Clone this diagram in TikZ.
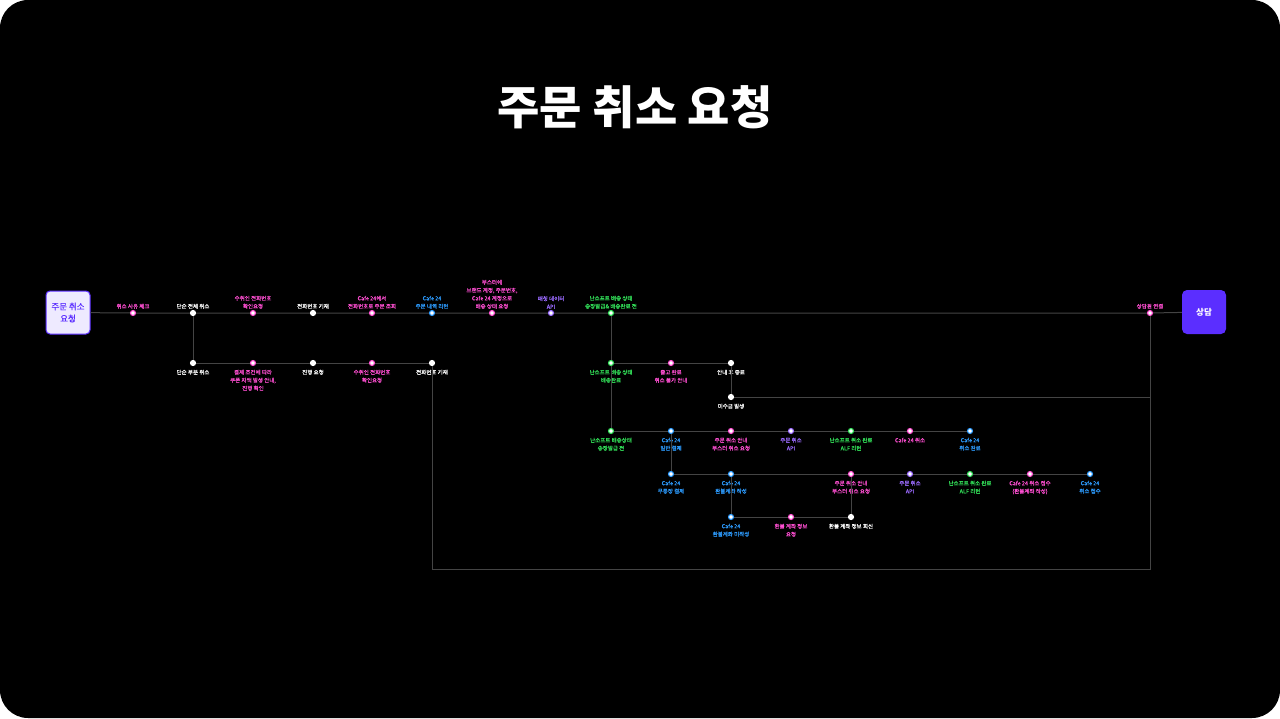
\documentclass[tikz,border=0pt]{standalone}
\usepackage{fontspec}
\usepackage{xcolor}
\usepackage{tikz}
\usetikzlibrary{positioning}
\newfontfamily\krfont{Noto Sans CJK KR}
\newfontfamily\krlbl[FakeBold=0.5]{Noto Sans CJK KR}
\definecolor{pinkc}{HTML}{FF4FD2}
\definecolor{bluec}{HTML}{2D9CFF}
\definecolor{purplec}{HTML}{9B6BFF}
\definecolor{greenc}{HTML}{33E35A}
\definecolor{linec}{HTML}{444444}
\definecolor{startfill}{HTML}{EEEAFF}
\definecolor{consultc}{HTML}{5B2EFF}
\tikzset{
    dot/.style={circle, draw, fill=white, line width=1.1pt, inner sep=0pt, minimum size=5pt, label distance=1pt},
    pdot/.style={dot, draw=pinkc},
    bdot/.style={dot, draw=bluec},
    vdot/.style={dot, draw=purplec},
    gdot/.style={dot, draw=greenc},
    wdot/.style={dot, draw=white},
    lbl/.style={font=\krlbl\fontsize{5.5}{8}\selectfont, align=center, inner sep=1pt},
    lblb/.style={lbl, yshift=-2.5pt},
    flow/.style={draw=linec, line width=1pt},
    startbox/.style={rectangle, draw=consultc, line width=1pt, fill=startfill, rounded corners=4pt, minimum width=44pt, minimum height=43pt, align=center, text=consultc, font=\krlbl\fontsize{8.5}{12}\selectfont},
    consultbox/.style={rectangle, fill=consultc, rounded corners=5pt, minimum width=44pt, minimum height=44pt, align=center, text=white, font=\krfont\bfseries\fontsize{8.5}{10}\selectfont},
    title/.style={font=\krfont\bfseries\fontsize{46}{50}\selectfont, text=white}
}
\begin{document}
\begin{tikzpicture}[x=1pt, y=-1pt]
        \fill[white] (0,0) rectangle (1280,718);
        \fill[black, rounded corners=28pt] (0,0) rectangle (1280,718);
        \node[title] (Title) at (635,107) {주문 취소 요청};

        % main row
        \node[startbox] (Start) at (68,312.5) {주문 취소\\요청};
        \node[pdot, label={[lbl, text=pinkc]above:취소 사유 체크}] (Reason) at (133,313) {};
        \node[wdot, label={[lbl, text=white]above:단순 전체 취소}] (Full) at (193,313) {};
        \node[pdot, label={[lbl, text=pinkc]above:{수취인 전화번호\\확인요청}}] (PhoneReq) at (253,313) {};
        \node[wdot, label={[lbl, text=white]above:전화번호 기재}] (PhoneIn) at (313,313) {};
        \node[pdot, label={[lbl, text=pinkc]above:{Cafe 24에서\\전화번호로 주문 조회}}] (Lookup) at (372,313) {};
        \node[bdot, label={[lbl, text=bluec]above:{Cafe 24\\주문 내역 리턴}}] (OrderRet) at (432,313) {};
        \node[pdot, label={[lbl, text=pinkc]above:{부스터에\\브랜드 계정, 주문번호,\\Cafe 24 계정으로\\배송 상태 요청}}] (Booster) at (492,313) {};
        \node[vdot, label={[lbl, text=purplec]above:{매칭 데이터\\API}}] (Match) at (551,313) {};
        \node[gdot, label={[lbl, text=greenc]above:{난소프트 배송 상태\\송장발급\& 배송완료 전}}] (BeforeShip) at (611,313) {};
        \node[pdot, label={[lbl, text=pinkc]above:상담원 연결}] (Agent) at (1150,313) {};
        \node[consultbox] (Consult) at (1204,312) {상담};

        % partial cancel row
        \node[wdot, label={[lblb, text=white]below:단순 부분 취소}] (Partial) at (193,363) {};
        \node[pdot, label={[lblb, text=pinkc]below:{결제 조건에 따라\\쿠폰 차액 발생 안내,\\진행 확인}}] (Coupon) at (253,363) {};
        \node[wdot, label={[lblb, text=white]below:진행 요청}] (Proceed) at (313,363) {};
        \node[pdot, label={[lblb, text=pinkc]below:{수취인 전화번호\\확인요청}}] (PhoneReqB) at (372,363) {};
        \node[wdot, label={[lblb, text=white]below:전화번호 기재}] (PhoneInB) at (432,363) {};

        % shipped branch
        \node[gdot, label={[lblb, text=greenc]below:{난소프트 배송 상태\\배송완료}}] (Shipped) at (611,363) {};
        \node[pdot, label={[lblb, text=pinkc]below:{출고 완료\\취소 불가 안내}}] (NoCancel) at (671,363) {};
        \node[wdot, label={[lblb, text=white]below:안내 후 종료}] (GuideEnd) at (731,363) {};
        \node[wdot, label={[lblb, text=white]below:미수금 발생}] (Unpaid) at (731,397) {};

        % before invoice row
        \node[gdot, label={[lblb, text=greenc]below:{난소프트 배송상태\\송장발급 전}}] (PreInv) at (611,431) {};
        \node[bdot, label={[lblb, text=bluec]below:{Cafe 24\\일반 결제}}] (Card) at (671,431) {};
        \node[pdot, label={[lblb, text=pinkc]below:{주문 취소 안내\\부스터 취소 요청}}] (NoticeA) at (731,431) {};
        \node[vdot, label={[lblb, text=purplec]below:{주문 취소\\API}}] (ApiA) at (791,431) {};
        \node[gdot, label={[lblb, text=greenc]below:{난소프트 취소 완료\\ALF 리턴}}] (AlfA) at (851,431) {};
        \node[pdot, label={[lblb, text=pinkc]below:Cafe 24 취소}] (CafeCancel) at (910,431) {};
        \node[bdot, label={[lblb, text=bluec]below:{Cafe 24\\취소 완료}}] (CafeDone) at (970,431) {};

        % bank transfer row
        \node[bdot, label={[lblb, text=bluec]below:{Cafe 24\\무통장 결제}}] (Bank) at (671,474) {};
        \node[bdot, label={[lblb, text=bluec]below:{Cafe 24\\환불계좌 작성}}] (Refund) at (731,474) {};
        \node[pdot, label={[lblb, text=pinkc]below:{주문 취소 안내\\부스터 취소 요청}}] (NoticeB) at (851,474) {};
        \node[vdot, label={[lblb, text=purplec]below:{주문 취소\\API}}] (ApiB) at (910,474) {};
        \node[gdot, label={[lblb, text=greenc]below:{난소프트 취소 완료\\ALF 리턴}}] (AlfB) at (970,474) {};
        \node[pdot, label={[lblb, text=pinkc]below:{Cafe 24 취소 접수\\(환불계좌 작성)}}] (Receipt) at (1030,474) {};
        \node[bdot, label={[lblb, text=bluec]below:{Cafe 24\\취소 접수}}] (Accepted) at (1090,474) {};

        % refund account row
        \node[bdot, label={[lblb, text=bluec]below:{Cafe 24\\환불계좌 미작성}}] (NoAcc) at (731,517) {};
        \node[pdot, label={[lblb, text=pinkc]below:{환불 계좌 정보\\요청}}] (AccReq) at (791,517) {};
        \node[wdot, label={[lblb, text=white]below:환불 계좌 정보 회신}] (AccReply) at (851,517) {};

        \coordinate (UnpaidEnd) at (1150,397);
        \coordinate (Bottom) at (1150,569);

        \draw[flow] (Start) -- (Reason) -- (Full) -- (PhoneReq) -- (PhoneIn) -- (Lookup) -- (OrderRet) -- (Booster) -- (Match) -- (BeforeShip) -- (Agent) -- (Consult);
        \draw[flow] (Full) -- (Partial) -- (Coupon) -- (Proceed) -- (PhoneReqB) -- (PhoneInB);
        \draw[flow] (PhoneInB) |- (Bottom) -- (Agent);
        \draw[flow] (BeforeShip) -- (Shipped) -- (NoCancel) -- (GuideEnd) -- (Unpaid) -- (UnpaidEnd);
        \draw[flow] (Shipped) -- (PreInv) -- (Card) -- (NoticeA) -- (ApiA) -- (AlfA) -- (CafeCancel) -- (CafeDone);
        \draw[flow] (Card) -- (Bank) -- (Refund) -- (NoticeB) -- (ApiB) -- (AlfB) -- (Receipt) -- (Accepted);
        \draw[flow] (Refund) -- (NoAcc) -- (AccReq) -- (AccReply) -- (NoticeB);
    \end{tikzpicture}
\end{document}
